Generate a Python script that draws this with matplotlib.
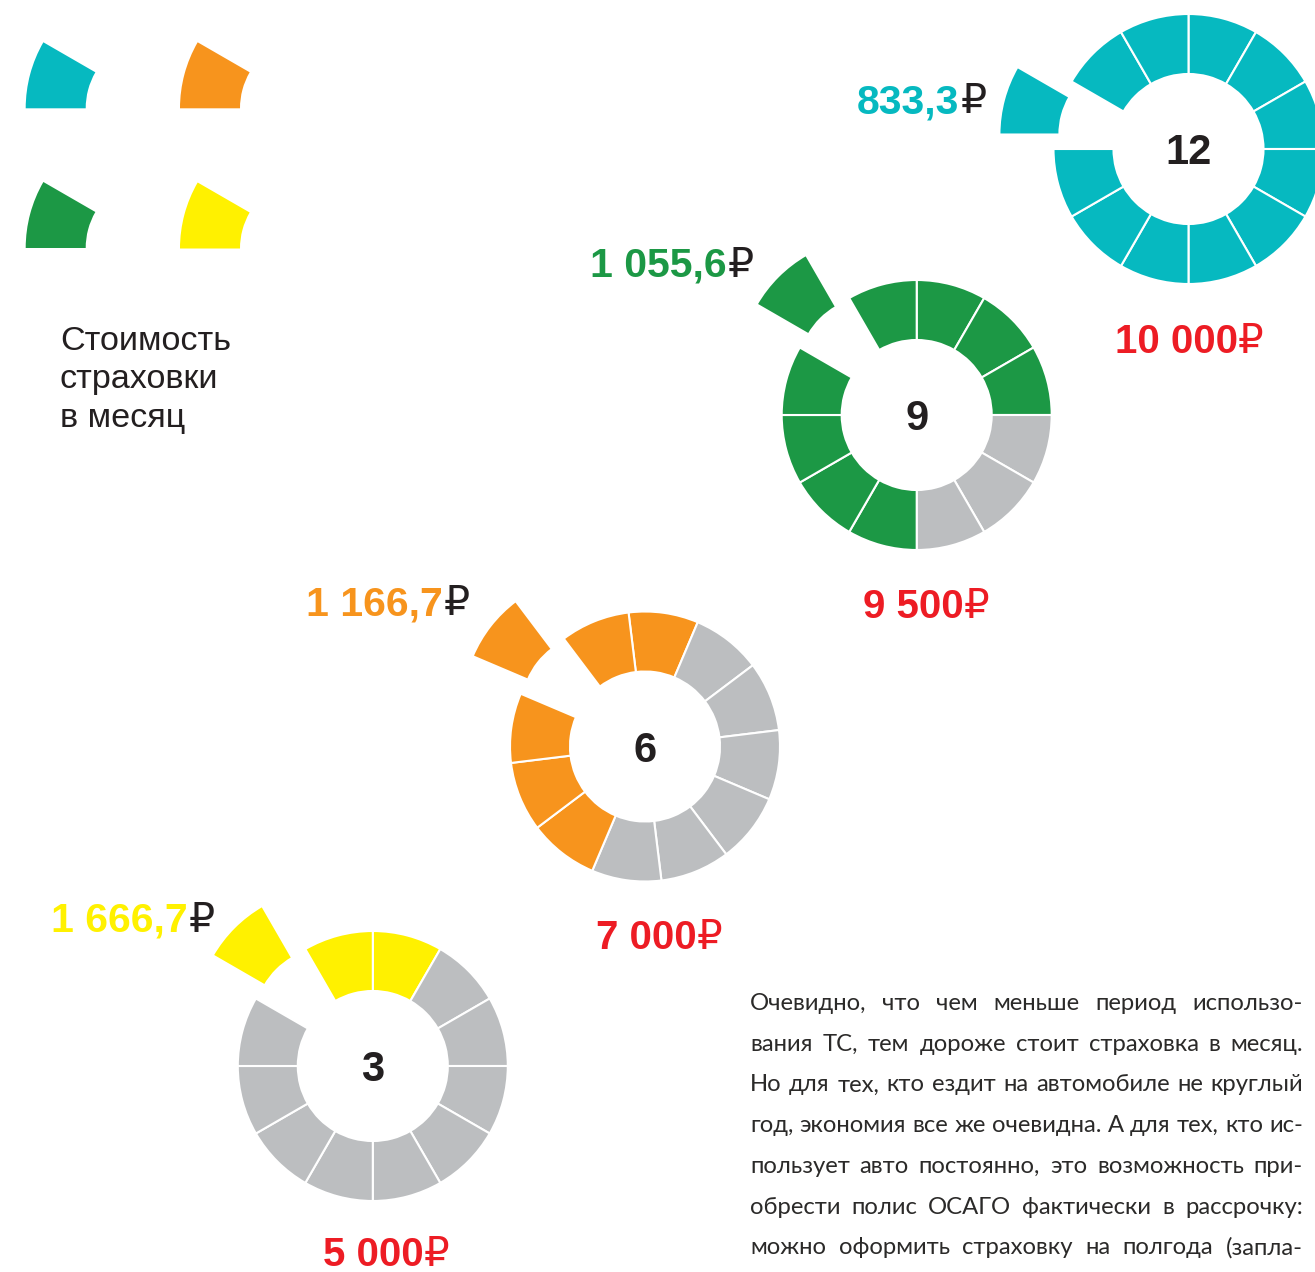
import matplotlib
matplotlib.use("Agg")
import matplotlib.pyplot as plt
import matplotlib.patches as mpatches

# ---------------- data ----------------
months = [12, 9, 6, 3]
total_cost = [10000, 9500, 7000, 5000]
monthly_cost = [833.3, 1055.6, 1166.7, 1666.7]
# which of the 12 month-segments (clockwise from the top) are coloured
paid_segments = [
    [0, 1, 2, 3, 4, 5, 6, 7, 8, 9, 10, 11],
    [0, 1, 2, 6, 7, 8, 9, 10, 11],
    [0, 7, 8, 9, 10, 11],
    [0, 10, 11],
]
exploded_segment = [9, 10, 10, 10]
series_colors = ["#06B9C0", "#1C9845", "#F7941D", "#FFF100"]
legend_colors = ["#06B9C0", "#F7941D", "#1C9845", "#FFF100"]
legend_title = "Стоимость\nстраховки\nв месяц"
paragraph = [
    "Очевидно, что чем меньше период использо-",
    "вания ТС, тем дороже стоит страховка в месяц.",
    "Но для тех, кто ездит на автомобиле не круглый",
    "год, экономия все же очевидна. А для тех, кто ис-",
    "пользует авто постоянно, это возможность при-",
    "обрести полис ОСАГО фактически в рассрочку:",
    "можно оформить страховку на полгода (запла-",
]

# ---------------- layout / style ----------------
W, H = 1315, 1272
GRAY = "#BCBEC0"
RED = "#ED1C24"
DARK = "#231F20"
centers = [(1188.5, 149), (916.7, 415), (645, 746.5), (372.8, 1066)]
start_angles = [90, 90, 97, 90]
explode_dist = [56, 61, 61, 61]
R_OUT, RING_W = 135, 60
month_label_pos = [(986.7, 113.3), (753.3, 276.7), (470, 615), (215, 931.7)]  # right end, baseline
total_label_left = [1115, 863, 596, 323]
total_baseline = [352.7, 618, 949, 1266]

fig = plt.figure(figsize=(W / 100, H / 100), dpi=100)
ax = fig.add_axes([0, 0, 1, 1])
renderer = fig.canvas.get_renderer()


def Y(y):
    return H - y


bold = dict(family=["Liberation Sans", "DejaVu Sans"], weight="bold")
reg = dict(family=["Liberation Sans", "DejaVu Sans"])


def fmt_int(v):
    return f"{v:,}".replace(",", " ")


def fmt_dec(v):
    return f"{v:,.1f}".replace(",", " ").replace(".", ",")


def width(t):
    return t.get_window_extent(renderer).width


# donuts
for i, n in enumerate(months):
    cx, cy = centers[i]
    cols = [series_colors[i] if k in paid_segments[i] else GRAY for k in range(12)]
    expl = [explode_dist[i] if k == exploded_segment[i] else 0 for k in range(12)]
    ax.pie([1] * 12, colors=cols, explode=expl, startangle=start_angles[i],
           counterclock=False, radius=R_OUT, center=(cx, Y(cy)),
           wedgeprops=dict(width=RING_W, edgecolor="white", linewidth=1.5))
    ax.text(cx, Y(cy + 15), str(n), ha="center", va="baseline", fontsize=30,
            color=DARK, **bold)

    # monthly cost label (coloured number + dark rouble sign)
    xr, yb = month_label_pos[i]
    rub = ax.text(xr, Y(yb), "₽", ha="right", va="baseline", fontsize=29.5,
                  color=DARK, **reg)
    rw = width(rub)
    ax.text(xr - rw - 1, Y(yb), fmt_dec(monthly_cost[i]), ha="right",
            va="baseline", fontsize=29.5, color=series_colors[i], **bold)

    # total cost label (red)
    xl = total_label_left[i]
    tb = total_baseline[i]
    num = ax.text(xl, Y(tb), fmt_int(total_cost[i]), ha="left", va="baseline",
                  fontsize=29, color=RED, **bold)
    nw = width(num)
    ax.text(xl + nw, Y(tb), "₽", ha="left", va="baseline", fontsize=29,
            color=RED, **reg)

# legend wedges
legend_pos = [(157.7, 108.3), (312.0, 108.3), (157.7, 248.0), (312.0, 248.5)]
for (lx, ly), c in zip(legend_pos, legend_colors):
    ax.add_patch(mpatches.Wedge((lx, Y(ly)), 132, 150, 180, width=60,
                                facecolor=c, edgecolor="none"))

# legend title
for j, line in enumerate(legend_title.split("\n")):
    ax.text(60, Y(350 + 38.3 * j), line, ha="left", va="baseline",
            fontsize=24.6, color=DARK, **reg)

# justified paragraph: size chosen so the tightest line fits with normal spaces
px0, px1 = 750, 1303
pfam = ["Lato", "DejaVu Sans"]
base = 20.0
probe = ax.text(0, 0, "a a", fontsize=base, family=pfam)
probe2 = ax.text(0, 0, "aa", fontsize=base, family=pfam)
space_w = width(probe) - width(probe2)
probe.remove(); probe2.remove()
max_nat = 0
for line in paragraph:
    t = ax.text(0, 0, line, fontsize=base, family=pfam)
    max_nat = max(max_nat, width(t))
    t.remove()
psize = base * (px1 - px0) / max_nat
pfont = dict(family=pfam, fontsize=psize, color="#2B2A29")
for j, line in enumerate(paragraph):
    yb = 1010 + 40.7 * j
    words = line.split(" ")
    texts = [ax.text(0, Y(yb), w, ha="left", va="baseline", **pfont) for w in words]
    ws = [width(t) for t in texts]
    gap = (px1 - px0 - sum(ws)) / (len(words) - 1)
    x = px0
    for t, w in zip(texts, ws):
        t.set_x(x)
        x += w + gap

ax.set_xlim(0, W)
ax.set_ylim(0, H)
ax.set_aspect("equal")
ax.axis("off")
fig.savefig("out.png", dpi=100, facecolor="white")
